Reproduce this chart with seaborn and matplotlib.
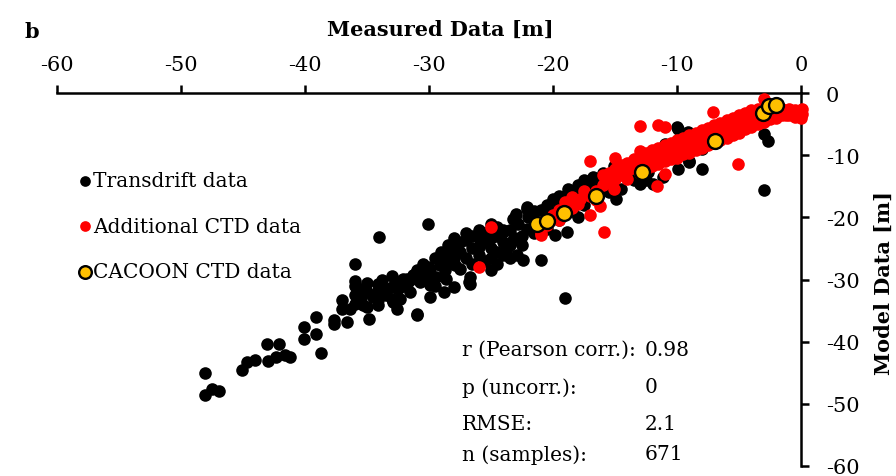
import matplotlib
matplotlib.use("Agg")
import matplotlib.pyplot as plt
import seaborn as sns
import pandas as pd

# measured vs model depth [m]
transdrift_x = [-48.1, -48.1, -47.5, -46.9, -45.1, -44.7, -44.0, -43.1, -42.1, -43.0, -42.3, -41.2,
                -41.6, -40.1, -40.1, -39.1, -39.1, -38.7, -37.7, -37.7, -37.0, -37.0, -36.6, -36.4,
                -36.0, -36.0, -36.0, -36.0, -36.0, -35.3, -35.0, -34.8, -34.1, -34.1, -34.1, -34.1,
                -34.1, -34.0, -33.4, -33.0, -33.0, -32.9, -32.6, -32.3, -32.1, -31.8, -31.5, -31.3,
                -31.1, -31.0, -31.0, -30.7, -30.1, -30.1, -29.9, -29.9, -29.9, -29.4, -29.1, -29.1,
                -28.8, -28.7, -28.7, -28.6, -28.0, -28.0, -28.0, -28.0, -27.9, -27.5, -27.0, -27.0,
                -26.8, -26.7, -26.7, -26.0, -26.0, -26.0, -25.0, -25.0, -25.0, -25.0, -24.0, -24.0,
                -24.0, -24.0, -23.7, -23.2, -23.2, -23.1, -23.1, -22.9, -22.5, -22.4, -22.1, -22.1,
                -22.1, -21.0, -21.0, -20.0, -19.8, -19.0, -19.0, -18.9, -18.0, -18.0, -17.0, -15.0,
                -15.0, -14.9, -15.1, -13.0, -12.3, -12.0, -11.9, -11.1, -11.0, -10.0, -9.9, -9.9,
                -9.1, -9.0, -9.0, -8.0, -8.0, -5.0, -3.0, -2.7, -3.0, -2.0,
                -27.5, -26.5, -26.5, -25.5, -25.5, -24.5, -24.5, -23.5, -23.5, -22.8, -22.5, -21.5,
                -21.5, -20.5, -20.5, -19.5, -19.5, -18.5, -18.5, -17.5, -17.5, -16.5, -16.5, -16.0,
                -14.0, -13.5, -12.5, -30.5, -32.5, -33.5, -35.0, -35.5, -31.8, -29.5,
                -35.5, -35.0, -34.5, -33.8, -33.0, -32.5, -32.0, -31.5, -31.0, -30.5, -30.0, -29.5,
                -29.0, -28.5, -28.5, -27.5, -27.0, -26.5, -26.0, -25.5, -25.0, -24.5, -24.5, -23.5,
                -23.0, -22.0, -21.5, -20.5, -20.0, -19.5, -18.8, -18.0, -17.5, -16.8, -16.0, -15.5,
                -14.5, -13.0, -12.5]
transdrift_y = [-45.1, -48.5, -47.6, -48.0, -44.6, -43.3, -43.0, -40.3, -40.4, -43.1, -42.4, -42.4,
                -42.2, -39.5, -37.6, -36.0, -38.7, -41.9, -37.1, -36.5, -33.3, -34.7, -36.8, -34.7,
                -27.5, -30.2, -31.0, -32.5, -33.9, -34.1, -34.4, -36.3, -30.7, -31.7, -32.5, -33.3,
                -34.1, -23.2, -31.5, -31.2, -33.1, -33.6, -34.7, -33.1, -29.9, -29.9, -32.0, -29.3,
                -29.1, -35.5, -35.7, -30.4, -28.0, -21.1, -28.3, -30.9, -32.8, -29.6, -26.9, -27.7,
                -32.0, -27.4, -28.5, -29.9, -23.4, -25.0, -26.6, -31.2, -27.7, -28.3, -23.7, -26.6,
                -30.4, -29.6, -30.7, -23.4, -24.8, -26.1, -23.4, -25.0, -26.6, -28.5, -22.4, -24.0,
                -26.1, -22.1, -25.0, -20.2, -23.7, -23.4, -20.0, -26.1, -24.5, -26.9, -18.6, -21.8,
                -18.3, -18.9, -26.9, -19.2, -22.9, -16.5, -32.9, -22.4, -16.2, -20.0, -14.6, -12.5,
                -13.5, -17.0, -11.7, -14.6, -12.7, -10.9, -14.6, -13.5, -8.2, -5.5, -5.8, -12.2,
                -6.3, -11.1, -10.9, -12.2, -9.0, -6.0, -6.6, -7.8, -15.6, -2.0,
                -25.5, -25.0, -27.5, -24.0, -27.0, -23.0, -25.5, -22.0, -24.5, -21.0, -23.0, -20.5,
                -22.5, -20.0, -21.8, -18.0, -20.5, -17.5, -19.0, -15.5, -18.0, -14.5, -17.0, -15.5,
                -13.0, -14.0, -11.0, -29.0, -31.5, -32.5, -32.0, -33.0, -30.8, -31.0,
                -31.5, -30.5, -32.8, -30.0, -29.5, -30.5, -31.0, -30.0, -28.5, -27.5, -29.5, -26.5,
                -25.5, -24.5, -26.0, -24.0, -22.5, -23.0, -22.0, -22.5, -21.0, -21.5, -27.5, -26.5,
                -19.5, -20.0, -19.0, -18.0, -17.0, -16.5, -15.5, -14.8, -14.0, -13.5, -12.8, -16.0,
                -15.5, -13.5, -14.0]

ctd_x = [-26.0, -25.0, -21.0, -21.0, -20.0, -19.5, -18.5, -17.8, -17.0, -17.0, -16.2, -16.5,
         -15.9, -15.9, -15.1, -15.0, -14.1, -13.0, -13.0, -11.5, -11.0, -11.6, -11.0, -7.1,
         -5.1, -3.0, 0.05, 0.05, -1.2, -1.7,
         -19.0, -18.5, -18.0, -17.5, -17.0, -16.5, -20.5, -19.5,
         -16.0, -16.0, -15.5, -15.5, -15.0, -15.0, -14.5, -14.5, -14.0, -14.0, -14.0, -13.5,
         -13.5, -13.0, -13.0, -13.0, -12.5, -12.5, -12.5, -12.0, -12.0, -12.0, -11.5, -11.5,
         -11.5, -11.0, -11.0, -11.0, -10.5, -10.5, -10.5, -10.0, -10.0, -10.0, -9.5, -9.5,
         -9.5, -9.0, -9.0, -9.0, -8.5, -8.5, -8.5, -8.0, -8.0, -8.0, -7.5, -7.5,
         -7.5, -7.0, -7.0, -7.0, -6.5, -6.5, -6.5, -6.0, -6.0, -6.0, -5.5, -5.5,
         -5.5, -5.0, -5.0, -5.0, -4.5, -4.5, -4.5, -4.0, -4.0, -4.0, -3.5, -3.5,
         -3.5, -3.0, -3.0, -3.0, -2.5, -2.5, -2.5, -2.0, -2.0, -2.0, -1.5, -1.5,
         -1.0, -1.0, -0.5, -0.5, 0.0, 0.0]
ctd_y = [-28.0, -21.6, -22.9, -22.6, -19.7, -18.8, -18.5, -17.0, -19.7, -10.9, -18.1, -15.8,
         -22.3, -14.6, -15.4, -10.5, -12.7, -9.4, -5.3, -5.1, -5.5, -14.9, -13.0, -3.1,
         -11.4, -1.0, -3.4, -2.6, -3.6, -2.8,
         -17.5, -16.8, -17.8, -15.8, -16.5, -17.2, -21.3, -20.5,
         -13.2, -14.8, -12.8, -14.2, -12.2, -13.8, -11.6, -13.2, -11.2, -12.6, -13.8, -10.6,
         -12.0, -10.2, -11.6, -12.8, -9.6, -11.0, -12.2, -9.2, -10.6, -11.8, -8.8, -10.2,
         -11.4, -8.4, -9.8, -11.0, -8.0, -9.4, -10.6, -7.6, -9.0, -10.4, -7.2, -8.6,
         -9.8, -6.8, -8.2, -9.6, -6.4, -7.8, -9.2, -6.0, -7.4, -8.8, -5.6, -7.0,
         -8.4, -5.2, -6.6, -8.0, -4.8, -6.2, -7.6, -4.4, -5.8, -7.2, -4.0, -5.4,
         -6.8, -3.6, -5.0, -6.4, -3.2, -4.6, -5.8, -2.8, -4.2, -5.4, -2.6, -3.8,
         -5.0, -2.4, -3.6, -4.6, -2.4, -3.4, -4.2, -2.4, -3.2, -4.0, -2.6, -3.6,
         -2.6, -3.6, -2.8, -3.8, -3.0, -4.0]

cacoon_x = [-21.3, -20.5, -19.1, -16.5, -12.8, -6.9, -3.1, -2.6, -2.0]
cacoon_y = [-21.0, -20.6, -19.3, -16.6, -12.7, -7.7, -3.2, -2.1, -2.0]

stat_names = ["r (Pearson corr.):", "p (uncorr.):", "RMSE:", "n (samples):"]
stat_values = ["0.98", "0", "2.1", "671"]

sns.set_style("white")
plt.rcParams['font.family'] = ['DejaVu Serif']
plt.rcParams['axes.unicode_minus'] = False
plt.rcParams['text.color'] = 'black'
plt.rcParams['xtick.color'] = 'black'
plt.rcParams['ytick.color'] = 'black'

fig = plt.figure(figsize=(8.96, 4.77), dpi=100)
ax = fig.add_axes([57/896, 10/477, 744/896, 373/477])

df_t = pd.DataFrame({"measured": transdrift_x, "model": transdrift_y})
df_c = pd.DataFrame({"measured": ctd_x, "model": ctd_y})
df_y = pd.DataFrame({"measured": cacoon_x, "model": cacoon_y})

sns.scatterplot(data=df_t, x="measured", y="model", color="black", s=82, linewidth=0,
                label="Transdrift data", ax=ax, clip_on=False, zorder=2)
sns.scatterplot(data=df_c, x="measured", y="model", color="#ff0000", s=82, linewidth=0,
                label="Additional CTD data", ax=ax, clip_on=False, zorder=3)
sns.scatterplot(data=df_y, x="measured", y="model", color="#ffc000", s=115, edgecolor="black",
                linewidth=1.7, label="CACOON CTD data", ax=ax, clip_on=False, zorder=4)

ax.set_xlim(-60, 0)
ax.set_ylim(-60, 0)
ax.set_xticks(range(-60, 1, 10))
ax.set_yticks(range(-60, 1, 10))
ax.xaxis.tick_top()
ax.yaxis.tick_right()
for side in ["left", "bottom"]:
    ax.spines[side].set_visible(False)
for side in ["top", "right"]:
    ax.spines[side].set_linewidth(1.8)
    ax.spines[side].set_color("black")
ax.tick_params(axis="both", direction="out", length=6, width=1.8, labelsize=15, color="black")
ax.tick_params(axis="x", pad=8)
ax.tick_params(axis="y", pad=12)
ax.set_xlabel("")
ax.set_ylabel("")

fig.text(440/896, 1 - 30/477, "Measured Data [m]", ha="center", va="center",
         fontsize=15, fontweight="bold")
fig.text(884/896, 1 - 283/477, "Model Data [m]", ha="center", va="center",
         rotation=90, fontsize=15, fontweight="bold")
fig.text(32/896, 1 - 32/477, "b", ha="center", va="center", fontsize=15, fontweight="bold")

leg = ax.legend(loc="upper left", bbox_to_anchor=(78/896, 1 - 172/477),
                bbox_transform=fig.transFigure, frameon=False, fontsize=14.5,
                handletextpad=0.05, handlelength=0.7, labelspacing=1.32,
                borderpad=0, borderaxespad=0, markerscale=0.85)

row_y = [350, 388, 425, 455]
for name, val, yy in zip(stat_names, stat_values, row_y):
    fig.text(462/896, 1 - yy/477, name, ha="left", va="center", fontsize=14.5)
    fig.text(645/896, 1 - yy/477, val, ha="left", va="center", fontsize=14.5)

fig.savefig("out.png", dpi=100)
